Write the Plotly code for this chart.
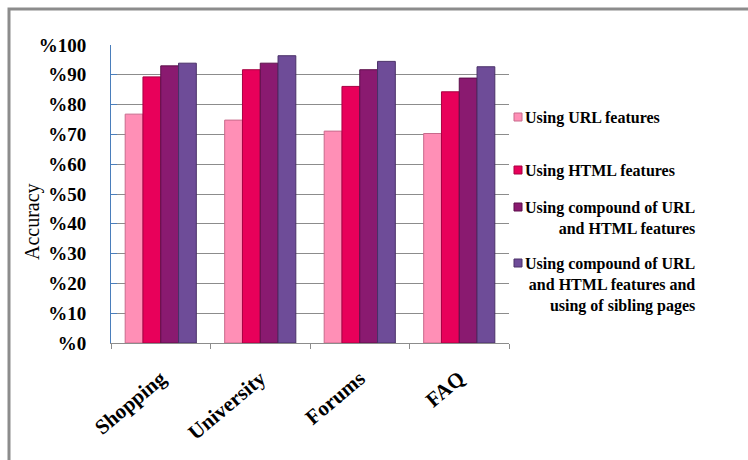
import plotly.graph_objects as go

# Page categories and accuracy (%) for each feature set
categories = ["Shopping", "University", "Forums", "FAQ"]
series_names = [
    "Using URL features",
    "Using HTML features",
    "Using compound of URL<br>and HTML features",
    "Using compound of URL<br>and HTML features and<br>using of sibling pages",
]
url_features = [76.8, 74.8, 71.1, 70.3]
html_features = [89.3, 91.7, 86.1, 84.3]
compound_features = [93.0, 93.9, 91.7, 88.9]
compound_sibling = [93.9, 96.4, 94.5, 92.7]

y_tick_values = [0, 10, 20, 30, 40, 50, 60, 70, 80, 90, 100]
y_tick_labels = ["%0", "%10", "%20", "%30", "%40", "%50", "%60", "%70", "%80", "%90", "%100"]

colors = ["#ff8fb6", "#e8005a", "#8a1a70", "#6e4c98"]
edges = ["#c86a8c", "#a80042", "#5c0f4a", "#4a3068"]

W, H = 748, 460
L, R, T, B = 111, 239, 45, 117
pw, ph = W - L - R, H - T - B

def px(xp):
    return (xp - L) / pw

def py(yp):
    return (H - B - yp) / ph

serif = "Liberation Serif"

fig = go.Figure()
all_values = [url_features, html_features, compound_features, compound_sibling]
for name, vals, c, e in zip(series_names, all_values, colors, edges):
    fig.add_trace(go.Bar(
        x=categories, y=vals, name=name,
        marker=dict(color=c, line=dict(color=e, width=1)),
        showlegend=False,
    ))

# Outer chart frame
fig.add_shape(type="rect", xref="paper", yref="paper",
              x0=px(9), x1=px(W + 20), y0=py(9), y1=py(H + 20),
              line=dict(color="#8c8c8c", width=3), fillcolor="rgba(0,0,0,0)", layer="below")

# Legend drawn as right-aligned labels with colour swatches
legend_y = [117, 170, 207, 263]
for name, c, e, yv in zip(series_names, colors, edges, legend_y):
    fig.add_shape(type="rect", xref="paper", yref="paper",
                  x0=px(514), x1=px(522), y0=py(yv - 4), y1=py(yv + 4),
                  fillcolor=c, line=dict(color=e, width=1))
    fig.add_annotation(xref="paper", yref="paper", x=px(523), y=py(yv - 10),
                       xanchor="left", yanchor="top", align="right",
                       text="<b>" + name.replace("<br>", "</b><br><b>") + "</b>",
                       showarrow=False,
                       font=dict(family=serif, size=16, color="#000"))

# Y axis title
fig.add_annotation(xref="paper", yref="paper", x=px(32), y=py(222),
                   text="Accuracy", textangle=-90, showarrow=False,
                   xanchor="center", yanchor="middle",
                   font=dict(family=serif, size=20, color="#000"))

fig.update_layout(
    width=W, height=H,
    margin=dict(l=L, r=R, t=T, b=B, pad=0),
    paper_bgcolor="#ffffff", plot_bgcolor="#ffffff",
    barmode="group", bargap=0.285, bargroupgap=0,
    font=dict(family=serif, color="#000"),
)
fig.update_yaxes(
    range=[0, 100], tickvals=y_tick_values, ticktext=y_tick_labels,
    showgrid=True, gridcolor="#8c8c8c", gridwidth=1,
    showline=True, linecolor="#4a7ebb", linewidth=1,
    ticks="inside", ticklen=6, tickcolor="#4a7ebb",
    ticklabelstandoff=20,
    tickfont=dict(family=serif, size=19, color="#000", weight="bold"),
    zeroline=False,
)
fig.update_xaxes(
    showline=True, linecolor="#8c8c8c", linewidth=1,
    ticks="outside", ticklen=5, tickcolor="#8c8c8c", tickson="boundaries",
    tickangle=-40, ticklabelstandoff=14,
    tickfont=dict(family=serif, size=21, color="#000", weight="bold"),
)

fig.write_html("out.html")
